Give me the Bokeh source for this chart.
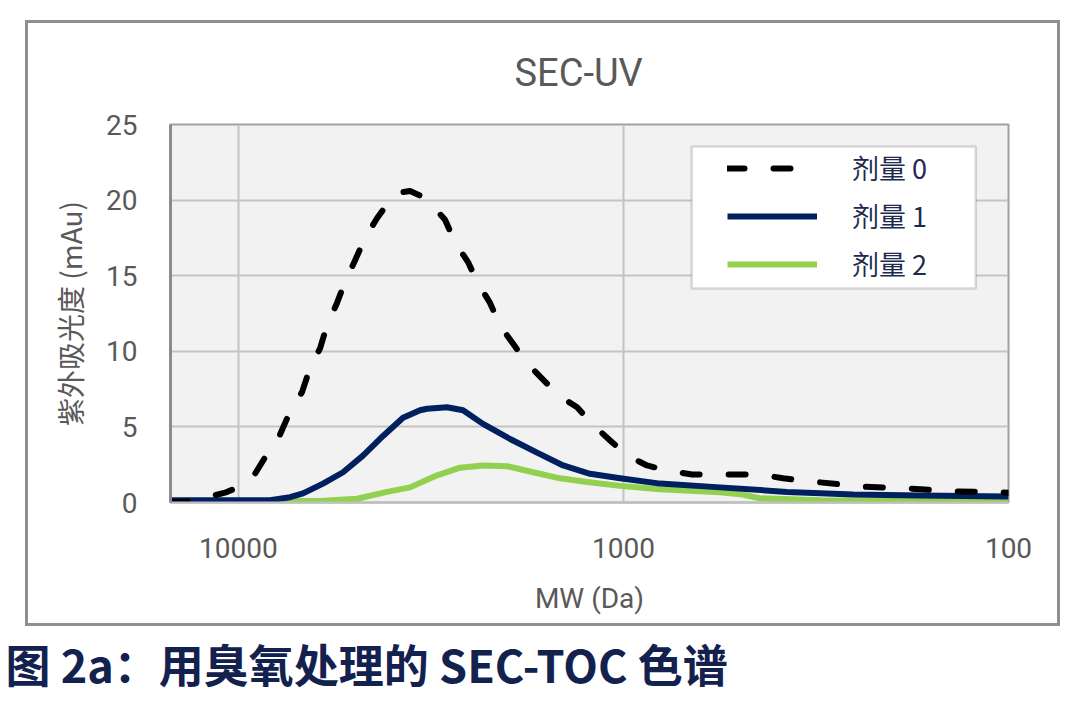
from bokeh.plotting import figure
from bokeh.models import (Range1d, FixedTicker, NumeralTickFormatter, Legend,
                          LegendItem, BoxAnnotation, Title)
from bokeh.embed import file_html
from bokeh.resources import INLINE

# ---------------- data ----------------
title_text = "SEC-UV"
x_label = "MW (Da)"
y_label = "紫外吸光度 (mAu)"
caption = "图 2a：用臭氧处理的 SEC-TOC 色谱"
series_names = ["剂量 0", "剂量 1", "剂量 2"]

x_ticks = [10000, 1000, 100]
y_ticks = [0, 5, 10, 15, 20, 25]

dose0_mw = [15000, 13750, 12960, 11840, 10830, 10000, 9050, 8372, 7792, 7340,
            6832, 6513, 6134, 5884, 5542, 5283, 4977, 4687, 4363, 4036, 3802,
            3581, 3374, 3178, 2905, 2736, 2532, 2385, 2220, 2091, 1934, 1779,
            1626, 1478, 1319, 1206, 1083, 978, 868, 766, 663, 544, 442, 385,
            314, 240, 180, 137.5, 105, 100]
dose0_uv = [0.05, 0.05, 0.2, 0.4, 0.65, 1.0, 1.9, 3.3, 4.5, 6.0,
            7.3, 8.9, 10.2, 11.7, 13.2, 14.6, 16.0, 17.5, 18.8, 20.0, 20.5,
            20.6, 20.3, 19.8, 18.7, 17.2, 15.9, 14.5, 13.2, 11.7, 10.5, 9.2,
            8.2, 7.1, 6.3, 5.2, 4.1, 3.1, 2.45, 2.1, 1.85, 1.85, 1.85, 1.6,
            1.35, 1.05, 0.92, 0.73, 0.68, 0.65]

dose1_mw = [15000, 8274, 7340, 6791, 6026, 5346, 4745, 4209, 3735, 3374, 3236,
            2871, 2609, 2315, 1969, 1676, 1434, 1221, 1020, 803, 561, 376, 253,
            170, 100]
dose1_uv = [0.15, 0.15, 0.35, 0.6, 1.25, 2.0, 3.1, 4.4, 5.6, 6.1, 6.2,
            6.3, 6.1, 5.2, 4.2, 3.3, 2.45, 1.9, 1.6, 1.25, 1.0, 0.7, 0.53,
            0.46, 0.4]

dose2_mw = [15000, 6134, 4918, 4110, 3581, 3047, 2656, 2315, 2005, 1716, 1460,
            1243, 1020, 803, 561, 498, 442, 308, 170, 100]
dose2_uv = [0.1, 0.1, 0.25, 0.7, 1.0, 1.8, 2.3, 2.45, 2.4, 2.0, 1.6,
            1.35, 1.1, 0.88, 0.68, 0.55, 0.28, 0.15, 0.13, 0.1]

x_min, x_max = 100, 15000
y_min, y_max = 0, 25

# ---------------- styles ----------------
GRAY = "#595959"
NAVY = "#002060"
GREEN = "#92d050"
LABEL_NAVY = "#1d2a4d"
CAPTION_NAVY = "#13214f"
LATIN = "Roboto"
CJK = "Noto Sans CJK SC"
BOX = "#8f8f8f"

W, H = 1076, 709
FL, FR, FT, FB = 170, 1008, 124, 502   # frame edges in page pixels

p = figure(width=W, height=H, x_axis_type="log",
           x_range=Range1d(x_max, x_min), y_range=Range1d(y_min, y_max),
           output_backend="svg", toolbar_location=None,
           min_border_left=FL, min_border_right=W - FR,
           min_border_top=FT, min_border_bottom=H - FB,
           background_fill_color="#f2f2f2", border_fill_alpha=0,
           title=title_text)

# outer grey box of the chart (drawn as CSS background lines behind the canvas)
g = f"linear-gradient({BOX},{BOX})"
p.styles = {
    "background-color": "white",
    "background-image": ",".join([g] * 4),
    "background-size": "1035px 3px, 1035px 3px, 3px 606px, 3px 606px",
    "background-position": "25px 20px, 25px 623px, 25px 20px, 1057px 20px",
    "background-repeat": "no-repeat",
}

p.title.text_font = LATIN
p.title.text_font_size = "38px"
p.title.text_font_style = "normal"
p.title.text_color = GRAY
p.title.align = "left"
p.title.offset = 344
p.title.standoff = 60

p.outline_line_color = "#a0a0a0"
p.outline_line_width = 2

for ax in (p.xaxis[0], p.yaxis[0]):
    ax.major_tick_in = 0
    ax.major_tick_out = 0
    ax.minor_tick_in = 0
    ax.minor_tick_out = 0
    ax.major_label_text_font = LATIN
    ax.major_label_text_font_size = "28px"
    ax.major_label_text_color = GRAY
    ax.axis_label_text_font_size = "28px"
    ax.axis_label_text_font_style = "normal"
    ax.axis_label_text_color = GRAY

p.xaxis.ticker = FixedTicker(ticks=x_ticks)
p.xaxis.formatter = NumeralTickFormatter(format="0")
p.xaxis.axis_label = x_label
p.xaxis.axis_label_text_font = LATIN
p.xaxis.major_label_standoff = 35
p.xaxis.axis_label_standoff = 21
p.xaxis.axis_line_color = "#bfbfbf"
p.xaxis.axis_line_width = 2

p.yaxis.ticker = FixedTicker(ticks=y_ticks)
p.yaxis.axis_label = y_label
p.yaxis.axis_label_text_font = CJK
p.yaxis.major_label_standoff = 33
p.yaxis.axis_label_standoff = 13
p.yaxis.axis_line_color = "#8c8c8c"
p.yaxis.axis_line_width = 3

p.xgrid.grid_line_color = "#c3c3c3"
p.xgrid.grid_line_width = 2
p.ygrid.grid_line_color = "#c3c3c3"
p.ygrid.grid_line_width = 2

r2 = p.line(dose2_mw, dose2_uv, line_color=GREEN, line_width=6, line_join="round")
r1 = p.line(dose1_mw, dose1_uv, line_color=NAVY, line_width=6, line_join="round")
r0 = p.line(dose0_mw, dose0_uv, line_color="black", line_width=6,
            line_dash="17 29", line_cap="round", line_join="round")

# legend box then transparent legend on top
box = BoxAnnotation(left=665, right=121.6, bottom=14.15, top=23.54,
                    fill_color="white", fill_alpha=1.0,
                    line_color="#808080", line_width=2.5)
p.add_layout(box)

legend = Legend(items=[LegendItem(label=series_names[0], renderers=[r0]),
                       LegendItem(label=series_names[1], renderers=[r1]),
                       LegendItem(label=series_names[2], renderers=[r2])],
                location=(727 - 11 - FL, 208), margin=0, padding=11,
                glyph_width=90, glyph_height=26, label_height=26,
                spacing=9, label_standoff=35,
                label_text_font=CJK, label_text_font_size="27px",
                label_text_color=LABEL_NAVY,
                background_fill_alpha=0, border_line_alpha=0)
p.add_layout(legend)

# caption below the chart box
cap = Title(text=caption, align="left", offset=5 - FL, standoff=22,
            text_font=CJK, text_font_size="45px", text_font_style="bold",
            text_color=CAPTION_NAVY, text_line_height=0.8)
p.add_layout(cap, "below")

open("out.html", "w").write(file_html(p, INLINE))
